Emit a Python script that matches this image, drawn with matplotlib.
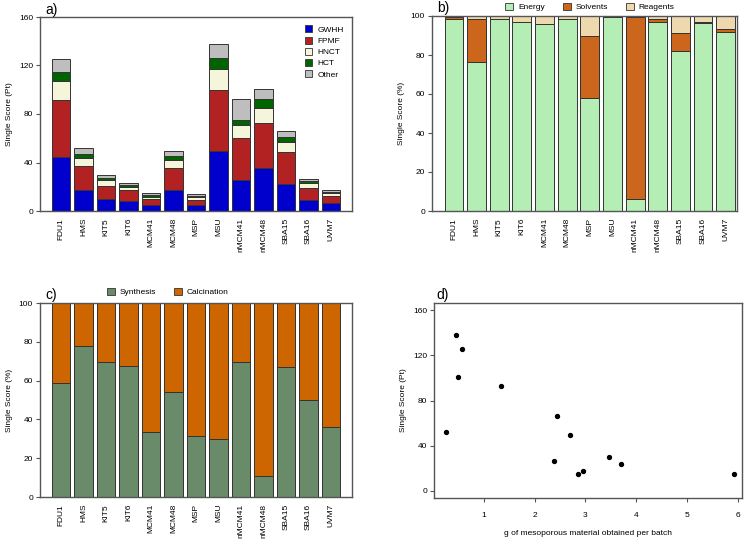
import numpy as np
import matplotlib
matplotlib.use("Agg")
import matplotlib.pyplot as plt
from matplotlib.patches import Patch

plt.rcParams['font.family'] = ['Liberation Sans', 'DejaVu Sans']

# ------------------------------------------------------------------
# data
# ------------------------------------------------------------------
materials = ["FDU1", "HMS", "KIT5", "KIT6", "MCM41", "MCM48", "MSP", "MSU",
             "nMCM41", "nMCM48", "SBA15", "SBA16", "UVM7"]

# a) single score (Pt) per impact category
gwhh  = [44.5, 17.6, 10.2, 8.2, 5.2, 17.6, 4.7, 49.2, 25.8, 35.7, 22.3, 9.3, 6.3]
fpmf  = [46.8, 19.2, 10.7, 8.8, 4.4, 17.9, 4.6, 50.3, 34.1, 36.6, 26.6, 9.4, 6.3]
hnct  = [15.6, 6.9, 4.4, 3.1, 2.2, 6.8, 2.2, 17.9, 11.3, 12.9, 8.0, 4.1, 2.2]
hct   = [8.0, 3.3, 1.9, 1.3, 1.4, 3.1, 1.1, 9.1, 4.1, 6.9, 3.9, 1.7, 1.1]
other = [10.2, 5.2, 2.5, 1.7, 1.6, 4.1, 1.7, 11.2, 17.1, 8.2, 5.5, 1.9, 1.7]

# b) share (%) by input type
energy   = [98.7, 76.4, 98.5, 96.7, 96.1, 98.5, 57.9, 99.5, 6.3, 96.7, 81.8, 96.6, 91.6]
solvents = [1.0, 22.1, 0.2, 0.1, 0.0, 0.0, 31.8, 0.0, 93.4, 1.8, 9.3, 0.5, 1.6]
reagents = [0.3, 1.5, 1.3, 3.2, 3.9, 1.5, 10.3, 0.5, 0.3, 1.5, 8.9, 2.9, 6.8]

# c) share (%) by stage
synthesis   = [58.6, 77.7, 69.6, 67.4, 33.7, 54.3, 31.4, 29.7, 69.6, 10.7, 66.8, 50.0, 35.9]
calcination = [100 - s for s in synthesis]

# d) single score vs. yield
grams = [0.25, 0.45, 0.58, 0.50, 1.33, 2.44, 2.69, 2.39, 2.86, 2.95, 3.46, 3.70, 5.92]
score = [52.4, 137.8, 125.6, 100.4, 92.7, 66.4, 49.5, 26.7, 15.1, 17.8, 29.6, 23.4, 14.5]

# ------------------------------------------------------------------
# style helpers
# ------------------------------------------------------------------
fs = 6
edge = "#333333"
frame = "#555555"

def style(ax):
    for s in ax.spines.values():
        s.set_color(frame)
        s.set_linewidth(1.0)
    ax.tick_params(labelsize=fs, length=3, width=0.8, color=frame, pad=2)

def stack(ax, series, colors, xlim):
    x = np.arange(len(materials))
    bottom = np.zeros(len(materials))
    for vals, c in zip(series, colors):
        ax.bar(x, vals, 0.833, bottom=bottom, color=c, edgecolor=edge, linewidth=0.7)
        bottom += np.array(vals)
    ax.set_xticks(x)
    ax.set_xticklabels(materials, rotation=90)
    ax.set_xlim(*xlim)

fig = plt.figure(figsize=(7.49, 5.40), dpi=100)

# ------------------------------------------------------------------
# a)
# ------------------------------------------------------------------
ax = fig.add_axes([40/749, 1-211/540, 312/749, 194/540])
cols_a = ["#0000CD", "#B22222", "#F5F5DC", "#006400", "#BEBEBE"]
stack(ax, [gwhh, fpmf, hnct, hct, other], cols_a, (-0.93, 12.93))
ax.set_ylim(0, 160)
ax.set_yticks([0, 40, 80, 120, 160])
ax.set_ylabel("Single Score (Pt)", fontsize=fs)
style(ax)
ax.tick_params(axis="x", length=0, pad=5)
hnd = [Patch(facecolor=c, edgecolor=edge, linewidth=0.6) for c in cols_a]
ax.legend(hnd, ["GWHH", "FPMF", "HNCT", "HCT", "Other"], loc="upper right",
          frameon=False, fontsize=fs, handlelength=0.9, handleheight=0.9,
          handletextpad=0.6, labelspacing=0.35, borderaxespad=0.6)
fig.text(45/749, 1-10/540, "a)", fontsize=10, va="center")

# ------------------------------------------------------------------
# b)
# ------------------------------------------------------------------
ax = fig.add_axes([432/749, 1-211/540, 305/749, 195/540])
cols_b = ["#B4EEB4", "#CD661D", "#EED8AE"]
stack(ax, [energy, solvents, reagents], cols_b, (-0.97, 12.5))
ax.set_ylim(0, 100)
ax.set_yticks([0, 20, 40, 60, 80, 100])
ax.set_ylabel("Single Score (%)", fontsize=fs)
style(ax)
ax.tick_params(axis="x", length=0, pad=5)
hnd = [Patch(facecolor=c, edgecolor=edge, linewidth=0.6) for c in cols_b]
ax.legend(hnd, ["Energy", "Solvents", "Reagents"], loc="center",
          bbox_to_anchor=(590/749, 1-7/540), bbox_transform=fig.transFigure,
          ncol=3, frameon=False, fontsize=fs, handlelength=0.9, handleheight=0.9,
          handletextpad=0.6, columnspacing=2.2)
fig.text(437/749, 1-8/540, "b)", fontsize=10, va="center")

# ------------------------------------------------------------------
# c)
# ------------------------------------------------------------------
ax = fig.add_axes([40/749, 1-497/540, 312/749, 194/540])
cols_c = ["#698B69", "#CD6600"]
stack(ax, [synthesis, calcination], cols_c, (-0.93, 12.93))
ax.set_ylim(0, 100)
ax.set_yticks([0, 20, 40, 60, 80, 100])
ax.set_ylabel("Single Score (%)", fontsize=fs)
style(ax)
ax.tick_params(axis="x", length=0, pad=5)
hnd = [Patch(facecolor=c, edgecolor=edge, linewidth=0.6) for c in cols_c]
ax.legend(hnd, ["Synthesis", "Calcination"], loc="center",
          bbox_to_anchor=(168/749, 1-292/540), bbox_transform=fig.transFigure,
          ncol=2, frameon=False, fontsize=fs, handlelength=0.9, handleheight=0.9,
          handletextpad=0.6, columnspacing=2.2)
fig.text(45/749, 1-295/540, "c)", fontsize=10, va="center")

# ------------------------------------------------------------------
# d)
# ------------------------------------------------------------------
ax = fig.add_axes([434/749, 1-498/540, 308/749, 195/540])
ax.scatter(grams, score, s=8, color="black", zorder=3)
ax.set_xlim(0.02, 6.08)
ax.set_ylim(-6.4, 166.4)
ax.set_xticks([1, 2, 3, 4, 5, 6])
ax.set_yticks([0, 40, 80, 120, 160])
ax.set_ylabel("Single Score (Pt)", fontsize=fs)
ax.set_xlabel("g of mesoporous material obtained per batch", fontsize=fs, labelpad=8)
style(ax)
ax.tick_params(axis="x", pad=7)
fig.text(436/749, 1-295/540, "d)", fontsize=10, va="center")

fig.savefig("out.png", dpi=100)
